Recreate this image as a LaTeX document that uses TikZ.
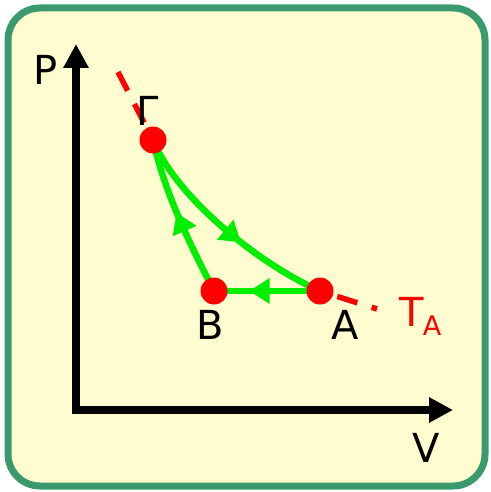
\documentclass[tikz,border=0pt]{standalone}
\usepackage{fontspec}
\setmainfont{DejaVu Sans}
\usetikzlibrary{arrows.meta,decorations.markings}
\definecolor{bggreen}{HTML}{3A9A6E}
\definecolor{bgyellow}{HTML}{FFFDD0}
\definecolor{lgreen}{HTML}{00EE00}
\tikzset{
  axis/.style={line width=7.5pt,-{Triangle[length=24pt,width=24pt]}},
  proc/.style={lgreen,line width=6.5pt,postaction={decorate},
    decoration={markings,mark=at position #1 with {\fill[lgreen] (-10pt,-13pt) -- (10pt,0pt) -- (-10pt,13pt) -- cycle;}}},
  proc/.default=0.5,
  dot/.style={circle,fill=red,inner sep=0pt,minimum size=27pt},
  lbl/.style={font=\fontsize{40}{42}\selectfont,inner sep=0pt},
  iso/.style={red,line width=5.5pt,dash pattern=on 21pt off 15pt}
}
\begin{document}
\begin{tikzpicture}[x=1pt,y=-1pt]
\useasboundingbox (0,0) rectangle (490,492);
\fill[white] (0,0) rectangle (490,492);
\draw[bggreen,fill=bgyellow,line width=7pt,rounded corners=32pt] (8,8) rectangle (485,486);
% axes
\coordinate (O) at (76,410);
\coordinate (Ptop) at (76,44);
\coordinate (Vend) at (453,410);
\draw[axis] (O) -- (Ptop);
\draw[axis] ([xshift=-3.75pt]O) -- (Vend);
\node[lbl] (Pl) at (46,70) {P};
\node[lbl] (Vl) at (426,448) {V};
% points
\coordinate (G) at (153,140);
\coordinate (B) at (214,291);
\coordinate (A) at (320,291);
\coordinate (iso1) at (118,72);
\coordinate (iso2) at (377,309);
% isotherm
\draw[iso] (iso1) -- (G) .. controls (175,195) and (255,262) .. (A) -- (iso2);
% process
\draw[proc=0.55] (G) .. controls (175,195) and (255,262) .. (A);
\draw[proc=0.57] (A) -- (B);
\draw[proc=0.47] (B) .. controls (193,250) and (165,195) .. (G);
\node[dot] (Gd) at (G) {};
\node[dot] (Bd) at (B) {};
\node[dot] (Ad) at (A) {};
\node[lbl] (Gl) at (148,111) {Γ};
\node[lbl] (Bl) at (210,325) {B};
\node[lbl] (Al) at (345,325) {A};
\node[lbl,text=red] (Tl) at (412,312) {T};
\node[inner sep=0pt,text=red,font=\fontsize{27}{29}\selectfont] (Tsub) at (432,326) {A};
\end{tikzpicture}
\end{document}
